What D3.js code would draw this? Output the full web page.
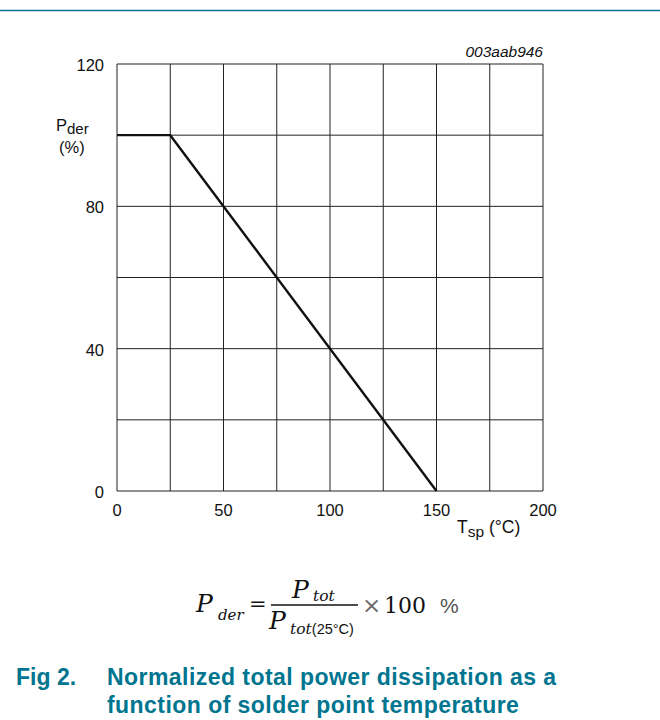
<!DOCTYPE html>
<html>
<head>
<meta charset="utf-8">
<script src="https://cdn.jsdelivr.net/npm/d3@7"></script>
<style>
  body { margin: 0; background: #fff; }
  svg text { font-family: Arial, "Liberation Sans", sans-serif; }
</style>
</head>
<body>
<div id="chart"></div>
<script>
// data
const temps = [0, 25, 150];
const pder = [100, 100, 0];
const xTicks = [0, 50, 100, 150, 200];
const yTicks = [0, 40, 80, 120];
const xGrid = [0, 25, 50, 75, 100, 125, 150, 175, 200];
const yGrid = [0, 20, 40, 60, 80, 100, 120];

const teal = "#00758f";
const W = 660, H = 720;
const margin = { top: 64, left: 117, right: 117, bottom: 229 };
const width = W - margin.left - margin.right;
const height = H - margin.top - margin.bottom;

const svg = d3.select("#chart").append("svg")
    .attr("width", W)
    .attr("height", H);

// top rule
svg.append("line")
    .attr("x1", 0).attr("x2", W)
    .attr("y1", 10.5).attr("y2", 10.5)
    .attr("stroke", teal)
    .attr("stroke-width", 1.5);

const g = svg.append("g")
    .attr("transform", "translate(" + margin.left + "," + margin.top + ")");

const x = d3.scaleLinear().domain([0, 200]).range([0, width]);
const y = d3.scaleLinear().domain([0, 120]).range([height, 0]);

// grid
g.selectAll(".vgrid")
    .data(xGrid)
    .enter().append("line")
    .attr("class", "vgrid")
    .attr("x1", d => x(d)).attr("x2", d => x(d))
    .attr("y1", 0).attr("y2", height)
    .attr("stroke", "#222")
    .attr("stroke-width", 1);

g.selectAll(".hgrid")
    .data(yGrid)
    .enter().append("line")
    .attr("class", "hgrid")
    .attr("x1", 0).attr("x2", width)
    .attr("y1", d => y(d)).attr("y2", d => y(d))
    .attr("stroke", "#222")
    .attr("stroke-width", 1);

// tick labels
g.selectAll(".xlab")
    .data(xTicks)
    .enter().append("text")
    .attr("x", d => x(d))
    .attr("y", height + 25)
    .attr("text-anchor", "middle")
    .attr("font-size", 16.5)
    .attr("fill", "#111")
    .text(d => d);

g.selectAll(".ylab")
    .data(yTicks)
    .enter().append("text")
    .attr("x", -13)
    .attr("y", d => y(d) + 7)
    .attr("text-anchor", "end")
    .attr("font-size", 16.5)
    .attr("fill", "#111")
    .text(d => d);

// data line
const line = d3.line()
    .x((d, i) => x(temps[i]))
    .y(d => y(d));

g.append("path")
    .datum(pder)
    .attr("fill", "none")
    .attr("stroke", "#111")
    .attr("stroke-width", 2.4)
    .attr("d", line);

// axis titles
const yt = svg.append("text")
    .attr("x", 56).attr("y", 131)
    .attr("font-size", 16.5)
    .attr("fill", "#111");
yt.append("tspan").text("P");
yt.append("tspan").attr("dy", 3).attr("font-size", 15).text("der");

svg.append("text")
    .attr("x", 59).attr("y", 153)
    .attr("font-size", 16.5)
    .attr("fill", "#111")
    .text("(%)");

const xt = svg.append("text")
    .attr("x", 457).attr("y", 533)
    .attr("font-size", 17.5)
    .attr("fill", "#111");
xt.append("tspan").text("T");
xt.append("tspan").attr("dy", 4).attr("font-size", 15.5).text("sp");
xt.append("tspan").attr("dy", -4).text(" (°C)");

svg.append("text")
    .attr("x", margin.left + width)
    .attr("y", 57)
    .attr("text-anchor", "end")
    .attr("font-size", 15.5)
    .attr("font-style", "italic")
    .attr("fill", "#111")
    .text("003aab946");

// formula
const serif = "'DejaVu Serif', 'Liberation Serif', serif";
const f = svg.append("g").attr("fill", "#111");

const lhs = f.append("text").attr("x", 196).attr("y", 612)
    .attr("font-size", 25).attr("font-style", "italic").style("font-family", serif);
lhs.append("tspan").text("P");
lhs.append("tspan").attr("x", 218).attr("y", 620).attr("font-size", 15).text("der");

f.append("text").attr("x", 249).attr("y", 611)
    .attr("font-size", 21).style("font-family", serif).text("=");

const num = f.append("text").attr("x", 292).attr("y", 598)
    .attr("font-size", 25).attr("font-style", "italic").style("font-family", serif);
num.append("tspan").text("P");
num.append("tspan").attr("x", 313).attr("y", 601).attr("font-size", 15.5).text("tot");

f.append("line")
    .attr("x1", 271).attr("x2", 358)
    .attr("y1", 605).attr("y2", 605)
    .attr("stroke", "#111").attr("stroke-width", 1.3);

const den = f.append("text").attr("x", 269).attr("y", 629)
    .attr("font-size", 25).attr("font-style", "italic").style("font-family", serif);
den.append("tspan").text("P");
den.append("tspan").attr("x", 290).attr("y", 634).attr("font-size", 15.5).text("tot");
den.append("tspan").attr("font-size", 14.5).attr("font-style", "normal")
    .style("font-family", "'Liberation Sans', Arial, sans-serif").text("(25°C)");

f.append("text").attr("x", 362).attr("y", 613)
    .attr("font-size", 23).style("font-family", serif)
    .attr("fill", "#666").text("×");
f.append("text").attr("x", 384).attr("y", 613)
    .attr("font-size", 22).style("font-family", serif)
    .text("100");
f.append("text").attr("x", 440).attr("y", 613)
    .attr("font-size", 21).style("font-family", "'Liberation Sans', Arial, sans-serif")
    .attr("fill", "#555").text("%");

// caption
const cap = svg.append("g").attr("fill", teal)
    .attr("font-weight", "bold").attr("font-size", 23);
cap.append("text").attr("x", 16).attr("y", 685).text("Fig 2.");
cap.append("text").attr("x", 107).attr("y", 685).attr("letter-spacing", 0.45)
    .text("Normalized total power dissipation as a");
cap.append("text").attr("x", 107).attr("y", 713).attr("letter-spacing", 0.45)
    .text("function of solder point temperature");
</script>
</body>
</html>
